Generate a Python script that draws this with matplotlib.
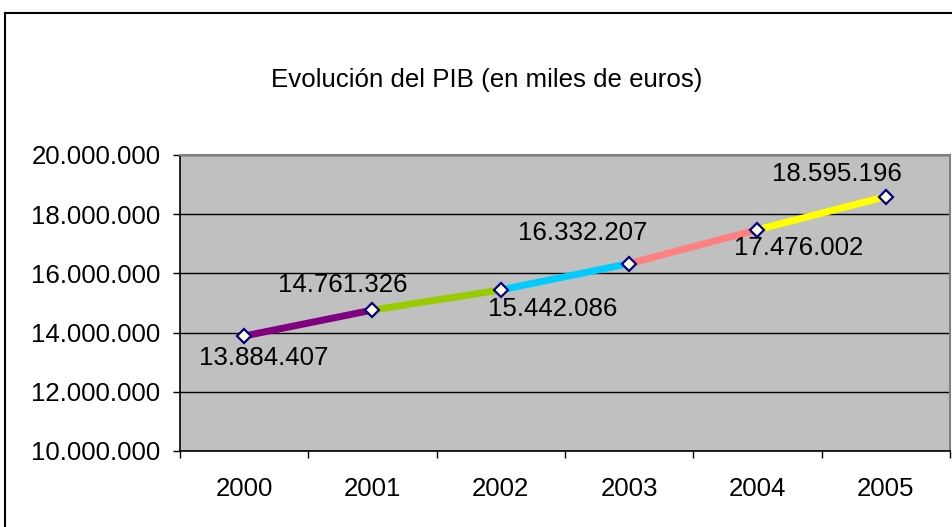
import numpy as np
import matplotlib
matplotlib.use('Agg')
import matplotlib.pyplot as plt
from matplotlib.lines import Line2D
from matplotlib.ticker import FuncFormatter

plt.rcParams['font.family'] = ['Liberation Sans', 'DejaVu Sans']

years = ['2000', '2001', '2002', '2003', '2004', '2005']
pib = [13884407, 14761326, 15442086, 16332207, 17476002, 18595196]
pib_labels = ['13.884.407', '14.761.326', '15.442.086', '16.332.207', '17.476.002', '18.595.196']

seg_colors = ['#800080', '#99CC00', '#00CCFF', '#FF8080', '#FFFF00']
# label offsets in pixels (dx, dy)
label_offsets = [(20, -22), (-30, 25), (52, -19), (-46, 31), (41, -18), (-49, 23)]

W, H = 953, 527
fig = plt.figure(figsize=(W / 100, H / 100), dpi=100)
ax = fig.add_axes([180 / W, 1 - 451 / H, 770 / W, 296 / H])
ax.set_facecolor('#C0C0C0')

x = np.arange(len(years))
fs = 18.6

# one coloured segment between each pair of years
for i in range(len(pib) - 1):
    ax.plot(x[i:i + 2], pib[i:i + 2], color=seg_colors[i], lw=5,
            solid_capstyle='butt', zorder=3)

ax.plot(x, pib, linestyle='none', marker='D', markersize=7.5,
        markerfacecolor='#FFFFE0', markeredgecolor='#000080',
        markeredgewidth=1.6, zorder=4)

for xi, yi, lab, (dx, dy) in zip(x, pib, pib_labels, label_offsets):
    ax.annotate(lab, (xi, yi), xytext=(dx, dy), textcoords='offset pixels',
                ha='center', va='center', fontsize=fs, color='black')

ax.set_xlim(-0.5, len(years) - 0.5)
ax.set_ylim(10000000, 20000000)
ax.set_yticks(np.arange(10000000, 20000001, 2000000))
ax.yaxis.set_major_formatter(FuncFormatter(lambda v, p: f'{int(v):,}'.replace(',', '.')))
ax.grid(True, axis='y', color='black', lw=1)
ax.set_axisbelow(True)

ax.set_xticks(np.arange(-0.5, len(years), 1.0))
ax.set_xticklabels([])
ax.set_xticks(x, minor=True)
ax.set_xticklabels(years, minor=True)
ax.tick_params(axis='x', which='minor', length=0, pad=19, labelsize=fs)
ax.tick_params(axis='x', which='major', length=5, width=1, direction='out')
ax.tick_params(axis='y', length=5, width=1, direction='out', pad=9, labelsize=fs)

for side in ['top', 'right']:
    ax.spines[side].set_color('#808080')
    ax.spines[side].set_linewidth(1.5)
for side in ['left', 'bottom']:
    ax.spines[side].set_color('black')
    ax.spines[side].set_linewidth(1.2)

fig.text(487 / W, 1 - 80 / H, 'Evolución del PIB (en miles de euros)',
         ha='center', va='center', fontsize=fs)

# chart area border (cut off on right and bottom)
fig.add_artist(Line2D([5 / W, 5 / W], [0, 1 - 13 / H], color='black', lw=1.5,
                      transform=fig.transFigure))
fig.add_artist(Line2D([5 / W, 1], [1 - 13 / H, 1 - 13 / H], color='black', lw=1.5,
                      transform=fig.transFigure))

fig.savefig('out.png', dpi=100)
